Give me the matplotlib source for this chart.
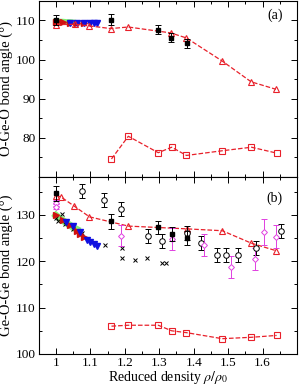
import numpy as np
import matplotlib
matplotlib.use("Agg")
import matplotlib.pyplot as plt
from matplotlib.ticker import MultipleLocator

plt.rcParams['font.family'] = ['Liberation Serif', 'DejaVu Serif']
plt.rcParams['mathtext.fontset'] = 'stix'

# ---- panel (a): O-Ge-O ----
a_tri_x = [1.0, 1.055, 1.095, 1.159, 1.21, 1.333, 1.379, 1.483, 1.567, 1.639]
a_tri_y = [108.9, 109.0, 108.6, 107.9, 108.3, 106.8, 105.5, 99.6, 94.3, 92.4]
a_sq_x = [1.161, 1.21, 1.297, 1.336, 1.379, 1.483, 1.568, 1.641]
a_sq_y = [74.6, 80.4, 76.2, 77.6, 75.5, 76.7, 77.6, 76.1]
a_exp_x = [1.0, 1.161, 1.297, 1.335, 1.38]
a_exp_y = [110.0, 110.2, 107.6, 105.6, 104.1]
a_exp_err = [1.3, 1.3, 1.2, 1.2, 1.2]
a_green_x = [1.0, 1.01, 1.02, 1.03, 1.04, 1.05]
a_green_y = [109.8, 109.7, 109.7, 109.6, 109.6, 109.5]
a_red_x = [1.0, 1.02, 1.04, 1.06, 1.08]
a_red_y = [109.7, 109.5, 109.4, 109.3, 109.2]
a_blue_x = [1.04, 1.06, 1.08, 1.1, 1.11, 1.12]
a_blue_y = [109.3, 109.3, 109.3, 109.3, 109.3, 109.3]

# ---- panel (b): Ge-O-Ge ----
b_tri_x = [1.0, 1.014, 1.053, 1.097, 1.21, 1.381, 1.483, 1.568, 1.639]
b_tri_y = [134.2, 133.9, 131.9, 129.6, 127.6, 127.0, 126.6, 123.9, 122.3]
b_sq_x = [1.161, 1.21, 1.297, 1.336, 1.379, 1.483, 1.568, 1.641]
b_sq_y = [106.0, 106.2, 106.2, 105.0, 104.6, 103.3, 103.6, 104.0]
b_exp_x = [1.0, 1.16, 1.297, 1.336, 1.38]
b_exp_y = [134.7, 128.6, 127.3, 125.9, 125.0]
b_exp_err = [1.6, 1.6, 1.5, 1.5, 1.5]
b_circ_x = [1.074, 1.14, 1.19, 1.266, 1.309, 1.38, 1.42, 1.468, 1.494, 1.529, 1.581, 1.655]
b_circ_y = [135.2, 133.2, 131.2, 125.5, 124.4, 126.1, 124.0, 121.4, 121.4, 121.4, 122.8, 126.6]
b_circ_err = [1.5] * 12
b_dia_x = [1.0, 1.0, 1.19, 1.336, 1.43, 1.507, 1.578, 1.604, 1.64]
b_dia_y = [132.6, 131.8, 125.5, 124.8, 123.5, 118.8, 120.5, 126.4, 125.3]
b_dia_err = [0.6, 0.6, 2.3, 2.3, 2.3, 2.3, 2.3, 2.8, 2.5]
b_cross_x = [1.0, 1.007, 1.017, 1.025, 1.05, 1.075, 1.143, 1.193, 1.193, 1.23, 1.264, 1.308, 1.32]
b_cross_y = [129.3, 128.6, 130.3, 128.0, 126.9, 126.1, 123.5, 122.8, 120.7, 120.3, 120.7, 119.6, 119.6]
b_green_x = [1.0, 1.01, 1.02, 1.03, 1.04, 1.05, 1.06]
b_green_y = [129.9, 129.3, 128.8, 128.3, 127.8, 127.3, 126.9]
b_red_x = [1.0, 1.02, 1.04, 1.06, 1.07, 1.08]
b_red_y = [130.0, 129.0, 127.9, 126.6, 125.9, 125.3]
b_blue_x = [1.03, 1.05, 1.07, 1.09, 1.1, 1.11, 1.12]
b_blue_y = [128.5, 127.6, 126.3, 124.6, 124.2, 123.7, 123.3]

red = '#e8202a'
mag = '#e040e0'

fig = plt.figure(figsize=(2.99, 3.86), dpi=100)
ax1 = fig.add_axes([0.130, 0.5415, 0.863, 0.4565])
ax2 = fig.add_axes([0.130, 0.083, 0.863, 0.4585])

# panel a
ax1.plot(a_green_x, a_green_y, color='#66ee55', lw=4, alpha=0.8, zorder=2)
ax1.plot(a_red_x, a_red_y, '>', color='#d01010', ms=4, zorder=3)
ax1.plot(a_blue_x, a_blue_y, 'v', color='#1010e0', ms=4, zorder=3)
ax1.plot([1.0], [109.9], 'o', color='#d01010', ms=4, zorder=3)
ax1.plot(a_tri_x, a_tri_y, '--^', color=red, mfc='none', ms=4.5, lw=0.9, mew=0.8, zorder=4)
ax1.plot(a_sq_x, a_sq_y, '--s', color=red, mfc='none', ms=4, lw=0.9, mew=0.8)
ax1.errorbar(a_exp_x, a_exp_y, yerr=a_exp_err, fmt='s', color='black', ms=3.5,
             capsize=2.5, elinewidth=0.7, capthick=0.7, zorder=5)
ax1.set_xlim(0.95, 1.7)
ax1.set_ylim(70, 115)
ax1.yaxis.set_major_locator(MultipleLocator(10))
ax1.yaxis.set_minor_locator(MultipleLocator(5))
ax1.set_yticks([80, 90, 100, 110])
ax1.set_ylabel('O-Ge-O bond angle (°)', fontsize=10.5, labelpad=2)
ax1.tick_params(labelbottom=False)
ax1.text(0.945, 0.915, '(a)', transform=ax1.transAxes, ha='right', va='center', fontsize=10)

# panel b
ax2.plot(b_green_x, b_green_y, color='#66ee55', lw=5, alpha=0.8, zorder=2)
ax2.plot(b_cross_x, b_cross_y, 'x', color='black', ms=3.5, mew=0.7, zorder=3)
ax2.plot(b_red_x, b_red_y, '>', color='#d01010', ms=4, zorder=3)
ax2.plot(b_blue_x, b_blue_y, 'v', color='#1010e0', ms=4, zorder=3)
ax2.plot(b_tri_x, b_tri_y, '--^', color=red, mfc='none', ms=4.5, lw=0.9, mew=0.8, zorder=4)
ax2.plot(b_sq_x, b_sq_y, '--s', color=red, mfc='none', ms=4, lw=0.9, mew=0.8)
ax2.errorbar(b_circ_x, b_circ_y, yerr=b_circ_err, fmt='o', color='black', mfc='white',
             ms=4, mew=0.7, capsize=2.5, elinewidth=0.7, capthick=0.7, zorder=5)
ax2.errorbar(b_dia_x, b_dia_y, yerr=b_dia_err, fmt='D', color=mag, mfc='white',
             ms=3, mew=0.7, capsize=2.5, elinewidth=0.7, capthick=0.7, zorder=5)
ax2.errorbar(b_exp_x, b_exp_y, yerr=b_exp_err, fmt='s', color='black', ms=3.5,
             capsize=2.5, elinewidth=0.7, capthick=0.7, zorder=6)
ax2.set_xlim(0.95, 1.7)
ax2.set_ylim(100, 138.2)
ax2.yaxis.set_major_locator(MultipleLocator(10))
ax2.yaxis.set_minor_locator(MultipleLocator(5))
ax2.set_ylabel('Ge-O-Ge bond angle (°)', fontsize=10.5, labelpad=2)
ax2.set_xlabel(r'Reduced density $\rho/\rho_0$', fontsize=10, labelpad=0)
ax2.text(0.945, 0.88, '(b)', transform=ax2.transAxes, ha='right', va='center', fontsize=10)

for ax in (ax1, ax2):
    ax.xaxis.set_major_locator(MultipleLocator(0.1))
    ax.xaxis.set_minor_locator(MultipleLocator(0.05))
    ax.tick_params(which='both', direction='in', top=True, right=True, labelsize=9.5, width=0.7)
    ax.tick_params(which='major', length=4, pad=2.5)
    ax.tick_params(which='minor', length=2)
    for s in ax.spines.values():
        s.set_linewidth(0.8)
ax2.set_xticks([1.0, 1.1, 1.2, 1.3, 1.4, 1.5, 1.6])
ax2.set_xticklabels(['1', '1.1', '1.2', '1.3', '1.4', '1.5', '1.6'])

fig.savefig('out.png', dpi=100)
